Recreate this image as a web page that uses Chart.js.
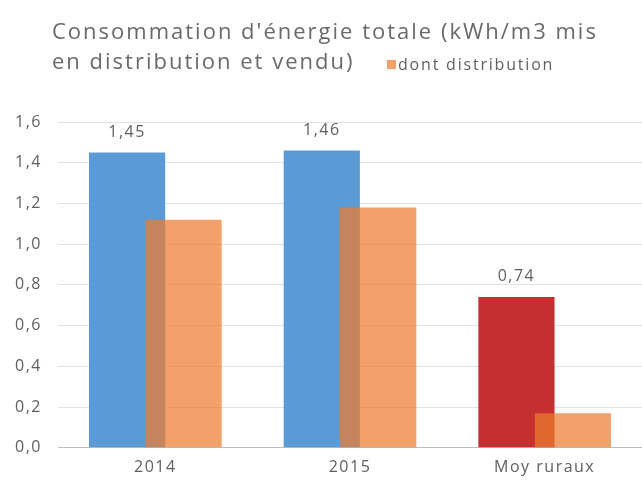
<!DOCTYPE html>
<html>
<head>
<meta charset="utf-8">
<script src="https://cdn.jsdelivr.net/npm/chart.js@4"></script>
<style>
  body { margin: 0; background: #fff; }
  #wrap { width: 642px; height: 484px; }
</style>
</head>
<body>
<div id="wrap"><canvas id="chart"></canvas></div>
<script>
// Chart data
const categories = ['2014', '2015', 'Moy ruraux'];
const totalValues = [1.45, 1.46, 0.74];
const distributionValues = [1.12, 1.18, 0.17];
const titleLines = ["Consommation d'énergie totale (kWh/m3 mis", 'en distribution et vendu)'];
const legendLabel = 'dont distribution';

const textColor = '#606060';
const fontFamily = '"Open Sans", sans-serif';
const orangeFill = 'rgba(237, 125, 49, 0.72)';

// format numbers the french way
function frNum(v, d) {
    return v.toFixed(d).replace('.', ',');
}

// wider letter spacing everywhere (the original is a bit stretched)
const spacingPlugin = {
    id: 'spacing',
    beforeInit(chart) {
        chart.ctx.letterSpacing = '1.5px';
    },
    beforeDraw(chart) {
        chart.ctx.letterSpacing = '1.5px';
    }
};

// draw blue/red bars first, then the orange ones on top
const drawOrder = {
    id: 'drawOrder',
    beforeDatasetsDraw(chart) {
        [0, 1].forEach(i => chart.getDatasetMeta(i).controller.draw());
        return false;
    }
};

// title, inline legend and value labels
const overlayPlugin = {
    id: 'overlay',
    afterDraw(chart) {
        const ctx = chart.ctx;
        ctx.save();
        ctx.fillStyle = '#6a6a6a';
        ctx.textBaseline = 'alphabetic';
        ctx.textAlign = 'left';
        ctx.letterSpacing = '2px';
        ctx.font = '22px ' + fontFamily;
        ctx.fillText(titleLines[0], 52, 39);
        ctx.fillText(titleLines[1], 52, 69);

        const lx = 387;
        ctx.fillStyle = orangeFill;
        ctx.fillRect(lx, 60, 9, 9);
        ctx.fillStyle = textColor;
        ctx.letterSpacing = '1.8px';
        ctx.font = '16px ' + fontFamily;
        ctx.fillText(legendLabel, lx + 11, 70);

        // value labels above the first dataset
        ctx.letterSpacing = '1.5px';
        ctx.font = '16px ' + fontFamily;
        ctx.textAlign = 'center';
        const meta = chart.getDatasetMeta(0);
        meta.data.forEach((bar, i) => {
            ctx.fillText(frNum(totalValues[i], 2), bar.x, bar.y - 16);
        });
        ctx.restore();
    }
};

const ctx = document.getElementById('chart').getContext('2d');
new Chart(ctx, {
    type: 'bar',
    data: {
        labels: categories,
        datasets: [
            {
                label: 'Total',
                data: totalValues,
                backgroundColor: ['#5B9BD5', '#5B9BD5', '#C3302F'],
                categoryPercentage: 0.58,
                barPercentage: 1.35
            },
            {
                label: legendLabel,
                data: distributionValues,
                backgroundColor: orangeFill,
                categoryPercentage: 0.58,
                barPercentage: 1.35
            }
        ]
    },
    options: {
        responsive: true,
        maintainAspectRatio: false,
        animation: false,
        layout: {
            padding: { top: 122, right: -6, left: 0, bottom: -3 }
        },
        plugins: {
            legend: { display: false },
            title: { display: false },
            tooltip: { enabled: false }
        },
        scales: {
            y: {
                min: 0,
                max: 1.6,
                afterFit: (scale) => { scale.width = 58; },
                ticks: {
                    stepSize: 0.2,
                    padding: 16,
                    color: textColor,
                    font: { family: fontFamily, size: 16 },
                    callback: (value) => frNum(value, 1)
                },
                grid: {
                    drawTicks: false,
                    color: (c) => c.tick.value === 0 ? '#bfbfbf' : '#e3e3e3',
                    lineWidth: 1
                },
                border: { display: false }
            },
            x: {
                ticks: {
                    padding: 10,
                    color: textColor,
                    font: { family: fontFamily, size: 16 }
                },
                grid: { display: false, drawTicks: false },
                border: { color: '#bfbfbf' }
            }
        }
    },
    plugins: [spacingPlugin, drawOrder, overlayPlugin]
});
</script>
</body>
</html>
